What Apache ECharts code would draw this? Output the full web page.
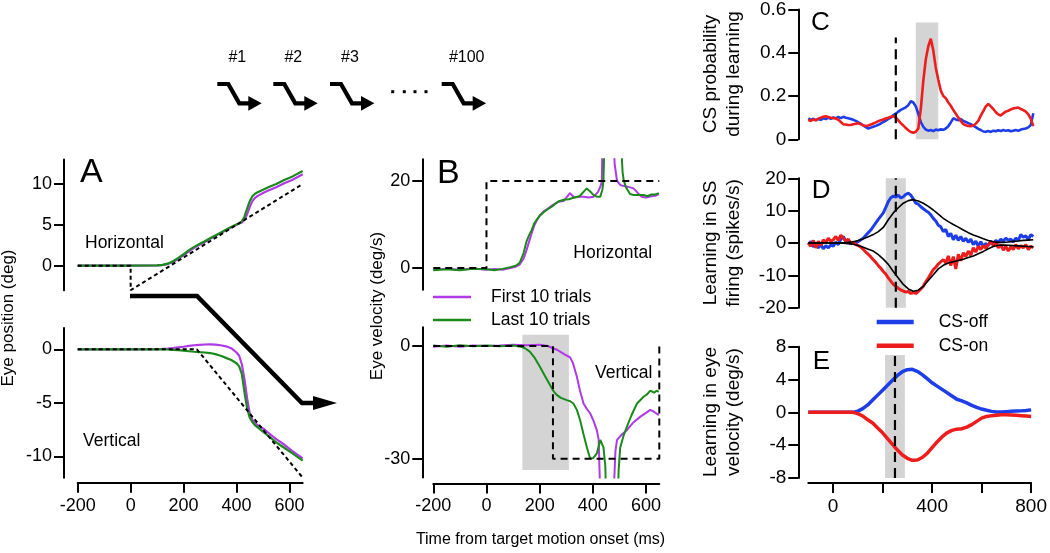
<!DOCTYPE html>
<html><head><meta charset="utf-8">
<script src="https://cdn.jsdelivr.net/npm/echarts@6/dist/echarts.min.js"></script>
<style>html,body{margin:0;padding:0;background:#fff}#c{width:1050px;height:553px}</style>
</head><body><div id="c"></div><script>
// ---------- DATA ----------
// Panel A (eye position, deg) time base (ms)
const aTime = [-200,-100,0,100,120,140,160,180,200,220,240,260,280,300,320,340,360,380,400,410,420,430,440,450,460,470,480,500,520,550,580,610,650];
const aHorizFirst = [0,0,0,0.03,0.08,0.2,0.45,0.85,1.3,1.75,2.2,2.55,2.9,3.3,3.65,4.0,4.35,4.7,5.0,5.15,5.3,5.6,6.3,7.2,7.9,8.3,8.55,8.9,9.2,9.6,10.1,10.5,11.2];
const aHorizLast = [0,0,0,0.05,0.1,0.25,0.55,0.95,1.4,1.9,2.3,2.65,3.0,3.35,3.7,4.05,4.4,4.75,5.05,5.2,5.4,6.0,7.0,7.9,8.5,8.8,9.0,9.3,9.6,10.0,10.5,10.9,11.6];
const aVertFirst = [0,0,0,0.02,0.04,0.07,0.12,0.18,0.24,0.32,0.38,0.42,0.45,0.46,0.44,0.38,0.28,0.1,-0.3,-0.6,-1.4,-2.8,-4.6,-6.0,-6.6,-6.9,-7.1,-7.4,-7.8,-8.4,-8.9,-9.5,-10.2];
const aVertLast = [0,0,0,0,0,-0.02,-0.05,-0.08,-0.13,-0.18,-0.23,-0.27,-0.3,-0.35,-0.45,-0.6,-0.8,-1.0,-1.3,-1.6,-2.3,-4.0,-5.5,-6.4,-6.8,-7.1,-7.3,-7.7,-8.1,-8.7,-9.2,-9.7,-10.4];
const aTargetHT = [-200,0,0,650], aTargetHY = [0,0,-3,10];
const aTargetVT = [-200,250,650], aTargetVY = [0,0,-12];

// Panel B (eye velocity, deg/s)
const bHorizLastT = [-200,-150,-100,-50,0,30,60,90,110,125,140,150,160,170,180,190,200,215,230,250,270,290,310,330,350,365,377,390,402,415,428,436,440,444,448,500,505,512,516,525,540,553,570,591,605,620,635,648];
const bHorizLastV = [-0.5,-0.3,-0.5,-0.2,-0.3,-0.5,-0.2,0.2,0.5,1.2,3.5,6.0,7.5,8.7,10.3,11.2,12.0,12.8,13.5,14.3,15.3,15.7,15.8,16.2,16.5,17.5,18.3,17.6,16.8,16.4,16.4,18,20.2,30,60,60,30,22,20.2,18.5,17,16.8,16.8,16.8,16.5,16.9,16.9,17.2];
const bHorizFirstT = [-200,-150,-100,-50,0,30,60,90,110,125,140,150,160,170,180,190,200,215,230,250,270,290,314,330,350,365,385,403,420,430,434,438,442,468,474,482,491,505,530,553,570,583,600,620,635,648];
const bHorizFirstV = [-0.4,-0.2,-0.4,-0.1,-0.4,-0.2,-0.4,0,0.3,0.8,2.2,4.0,6.0,8.0,9.8,11.0,12.0,13.0,13.6,14.5,15.2,15.4,17.2,16.2,16.4,16.4,16.2,16.4,17.5,19.0,20,40,60,60,35,24,20,19,18.7,18.3,17.2,16.4,16.2,16.5,16.6,17];
const bVertLastT = [-200,-150,-100,-50,0,50,100,130,145,163,180,201,220,239,250,264,280,302,315,327,340,352,365,377,390,402,415,428,434,440,447,453,491,497,503,515,528,545,566,591,605,616,630,640,648];
const bVertLastV = [0.1,-0.2,0.2,-0.1,0.1,-0.1,0.1,-0.2,-0.6,-1.5,-3.0,-5.5,-8.0,-10.4,-11.8,-13.0,-13.8,-14.4,-14.7,-15.3,-17.0,-19.7,-23.5,-26.8,-30.0,-29.8,-28.6,-25.0,-25.3,-27.0,-32,-50,-50,-33,-27.0,-24.0,-21.5,-18.5,-15.3,-13.5,-12.8,-11.9,-12.4,-11.9,-12.2];
const bVertFirstT = [-200,-150,-100,-50,0,50,100,150,200,230,250,265,277,295,314,325,340,352,365,378,390,403,415,422,428,478,485,491,510,528,550,579,600,616,630,648];
const bVertFirstV = [-0.2,0.1,-0.2,0.1,0,0.1,0.3,0.2,0.3,0,-0.6,-1.0,-1.5,-2.3,-3.0,-4.5,-8.2,-12.0,-15.3,-16.8,-17.9,-20.0,-22.4,-25,-40,-40,-28,-25.0,-23.5,-22.4,-20.5,-18.8,-17.8,-17.0,-17.5,-18.4];
const bTargetHT = [-200,0,0,650], bTargetHY = [0,0,20,20];
const bTargetVT = [-200,250,250,650,650], bTargetVY = [0,0,-30,-30,0];
const bBand = [135,310,-33,3];

// Panels C, D (time step 10 ms)
const cdTime = [-100,-90,-80,-70,-60,-50,-40,-30,-20,-10,0,10,20,30,40,50,60,70,80,90,100,110,120,130,140,150,160,170,180,190,200,210,220,230,240,250,260,270,280,290,300,310,320,330,340,350,360,370,380,390,400,410,420,430,440,450,460,470,480,490,500,510,520,530,540,550,560,570,580,590,600,610,620,630,640,650,660,670,680,690,700,710,720,730,740,750,760,770,780,790,800];
const cOff = [0.097,0.09,0.095,0.088,0.094,0.09,0.098,0.093,0.1,0.095,0.101,0.097,0.103,0.098,0.104,0.1,0.097,0.094,0.09,0.085,0.078,0.072,0.064,0.056,0.05,0.054,0.058,0.062,0.067,0.073,0.08,0.086,0.094,0.1,0.112,0.118,0.128,0.136,0.142,0.148,0.158,0.176,0.17,0.152,0.118,0.08,0.058,0.045,0.04,0.043,0.038,0.045,0.042,0.046,0.044,0.05,0.06,0.078,0.097,0.092,0.088,0.094,0.085,0.08,0.075,0.07,0.062,0.056,0.048,0.043,0.036,0.035,0.038,0.034,0.04,0.037,0.042,0.038,0.043,0.039,0.042,0.037,0.04,0.043,0.039,0.045,0.048,0.05,0.055,0.066,0.12];
const cOn = [0.089,0.085,0.092,0.088,0.095,0.1,0.104,0.107,0.103,0.1,0.098,0.097,0.09,0.08,0.07,0.068,0.066,0.066,0.07,0.072,0.074,0.07,0.064,0.061,0.064,0.068,0.073,0.078,0.084,0.088,0.092,0.096,0.1,0.104,0.107,0.1,0.088,0.075,0.064,0.052,0.042,0.034,0.03,0.035,0.05,0.14,0.27,0.37,0.43,0.465,0.41,0.33,0.275,0.225,0.2,0.19,0.17,0.155,0.135,0.118,0.1,0.085,0.07,0.065,0.062,0.06,0.064,0.072,0.085,0.11,0.13,0.152,0.163,0.152,0.14,0.125,0.115,0.11,0.12,0.128,0.132,0.138,0.143,0.145,0.147,0.14,0.135,0.128,0.115,0.095,0.061];
const dOff = [-0.5,0.5,-1.2,-0.3,-1.5,-0.5,-1.8,-0.8,-1.5,-0.6,-1.0,0.3,-0.5,1.2,2.0,0.5,1.0,-0.3,0.2,0.0,0.5,1.0,1.5,2.4,3.2,4.0,5.1,6.2,7.3,8.3,9.3,11.0,12.8,14.0,14.5,14.2,14.8,13.9,14.3,15.0,15.4,14.8,13.6,12.3,12.0,11.2,10.6,10.0,9.5,8.7,7.6,6.8,5.5,5.0,3.5,4.2,2.0,3.0,1.0,2.4,0.8,2.0,0.5,1.5,0.2,1.2,-0.5,0.6,-1.0,0.4,-1.0,-0.2,-0.8,0.5,-0.3,0.8,0.2,1.2,0.5,1.5,0.8,1.2,0.3,1.5,0.8,2.6,1.8,2.2,1.0,2.6,2.0];
const dOn = [0,-1.0,0.8,-1.5,0.5,-0.8,1.0,0.2,1.5,0.5,1.0,2.0,0.8,2.4,1.5,0.5,1.2,-0.2,0.3,-0.5,-0.8,-1.3,-2.0,-2.8,-3.5,-4.3,-5.2,-6.0,-7.0,-7.8,-8.8,-9.6,-10.8,-11.8,-12.8,-13.4,-14.0,-14.5,-14.9,-15.2,-15.0,-15.6,-15.3,-15.6,-15.0,-14.2,-13.4,-12.0,-10.8,-9.5,-8.2,-7.5,-6.5,-5.8,-5.1,-6.2,-4.0,-7.0,-4.2,-8.0,-3.5,-5.5,-3.0,-4.2,-2.5,-3.8,-1.5,-2.8,-1.0,-2.0,-0.8,-1.6,-0.5,0.5,-0.8,0.3,-1.5,-0.5,-2.2,-1.0,-2.5,-1.2,-2.0,-0.5,-1.8,-0.8,-1.5,-0.5,-2.0,-1.0,-1.5];

// Panels D model and E (time step 20 ms)
const eTime = [-100,-80,-60,-40,-20,0,20,40,60,80,100,120,140,160,180,200,220,240,260,280,300,320,340,360,380,400,420,440,460,480,500,520,540,560,580,600,620,640,660,680,700,720,740,760,780,800];
const dModelUp = [0,0,0,0,0,0,0,0.1,0.2,0.4,0.8,1.3,1.9,2.6,3.5,4.8,7.2,9.3,10.9,12.3,13.1,13.4,13.0,12.3,11.3,10.2,8.9,7.6,6.6,5.7,4.9,4.0,3.2,2.5,1.9,1.3,0.8,0.4,0.2,0.2,0.3,0.5,0.6,0.8,0.9,1.0];
const dModelDown = [0,0,0,0,0,0,0,-0.1,-0.2,-0.4,-0.8,-1.3,-1.9,-2.5,-3.6,-5.0,-6.6,-8.8,-10.8,-12.8,-14.2,-14.9,-14.6,-13.4,-11.6,-9.8,-8.0,-6.9,-6.2,-5.8,-5.4,-5.0,-4.5,-4.0,-3.3,-2.6,-1.8,-1.1,-0.7,-0.6,-0.7,-0.8,-0.9,-1.0,-1.1,-1.2];
const eOff = [0,0,0,0,0,0,0,0,0,0,0.15,0.45,0.9,1.5,2.1,2.7,3.3,3.9,4.5,4.95,5.2,5.25,5.0,4.6,4.1,3.6,3.2,2.8,2.4,2.0,1.6,1.4,1.15,0.85,0.6,0.4,0.25,0.12,0.05,0.03,0.08,0.12,0.15,0.18,0.22,0.3];
const eOn = [0,0,0,0,0,0,0,0,0,0,-0.15,-0.45,-0.9,-1.3,-1.9,-2.5,-3.2,-3.9,-4.6,-5.2,-5.6,-5.85,-5.8,-5.5,-5.0,-4.3,-3.6,-3.0,-2.5,-2.2,-2.05,-2.0,-1.8,-1.5,-1.1,-0.7,-0.5,-0.4,-0.35,-0.3,-0.3,-0.33,-0.36,-0.4,-0.45,-0.5];

const cBand = [330,420,0,0.54], dBand = [210,290,-20,20], eBand = [210,290,-8,7];
const cOnset = [250,0,0.47], dOnset = [250,-20,20], eOnset = [250,-8,7];

// Tick values
const abXTicks = [-200,0,200,400,600];
const aHTicks = [0,5,10], aVTicks = [-10,-5,0];
const bHTicks = [0,20], bVTicks = [-30,0];
const cTicks = [0,0.2,0.4,0.6], dTicks = [-20,-10,0,10,20], eTicks = [-8,-4,0,4,8];
const eXTicks = [0,200,400,600,800], eXLabels = [0,400,800];
const trialLabels = ['#1','#2','#3','#100'];

// ---------- STYLE ----------
const F = '"Liberation Sans", Arial, Helvetica, sans-serif';
const PURPLE = '#b03ae8', GREEN = '#1a8a1a', RED = '#ee1d1d', BLUE = '#1d3de8', BAND = '#d4d4d4';
const zip = (xs, ys) => xs.map((x, i) => [x, ys[i]]);

function xAx(gi, min, max, show, ticks, labels, offset, fs) {
  return {
    type: 'value', gridIndex: gi, min, max, show, offset: offset || 0, position: 'bottom',
    axisLine: { show: true, onZero: false, lineStyle: { color: '#000', width: 2 } },
    axisTick: { show: true, inside: false, length: 10, customValues: ticks || [], lineStyle: { color: '#000', width: 2 } },
    axisLabel: { show: true, customValues: labels || ticks || [], color: '#000', fontSize: fs || 18, fontFamily: F, margin: 14, formatter: v => String(v) },
    splitLine: { show: false }
  };
}
function yAx(gi, min, max, ticks, offset, fs) {
  return {
    type: 'value', gridIndex: gi, min, max, offset, position: 'left',
    axisLine: { show: true, onZero: false, lineStyle: { color: '#000', width: 2 } },
    axisTick: { show: true, inside: false, length: 10, customValues: ticks, lineStyle: { color: '#000', width: 2 } },
    axisLabel: { show: true, customValues: ticks, color: '#000', fontSize: fs || 18, fontFamily: F, margin: 12, formatter: v => String(v) },
    splitLine: { show: false }
  };
}
function line(name, xs, ys, gi, color, width, extra) {
  return Object.assign({
    type: 'line', name, data: zip(xs, ys), xAxisIndex: gi, yAxisIndex: gi,
    showSymbol: false, symbol: 'none', color, lineStyle: { color, width }, silent: true, clip: true, z: 2
  }, extra || {});
}
function dashed(xs, ys, gi, dash, width, band) {
  const s = line('Target', xs, ys, gi, '#000', width, { lineStyle: { color: '#000', width, type: dash }, z: 4 });
  if (band) {
    s.markArea = { silent: true, itemStyle: { color: BAND }, label: { show: false },
      data: [[{ coord: [band[0], band[2]] }, { coord: [band[1], band[3]] }]] };
  }
  return s;
}
function txt(x, y, s, size, align, rot, lh) {
  const st = { text: s, fill: '#000', font: size + 'px ' + F, align: align || 'left', verticalAlign: 'middle', textAlign: align || 'left', textVerticalAlign: 'middle' };
  if (lh) st.lineHeight = lh;
  return { type: 'text', x, y, rotation: rot || 0, silent: true, style: st };
}

// ---------- GRAPHICS (schematic decorations and text) ----------
const graphics = [
  txt(80, 173, 'A', 34), txt(437, 173.5, 'B', 34),
  txt(811, 23, 'C', 26), txt(811.7, 190.5, 'D', 26), txt(812.7, 361.7, 'E', 26),
  txt(85, 243, 'Horizontal', 17.5), txt(83, 441, 'Vertical', 17.5),
  txt(573.3, 253.5, 'Horizontal', 17.5), txt(595, 373.5, 'Vertical', 17.5),
  txt(8.5, 318, 'Eye position (deg)', 17, 'center', Math.PI / 2),
  txt(377.5, 306, 'Eye velocity (deg/s)', 17, 'center', Math.PI / 2),
  txt(722, 74, 'CS probability\nduring learning', 19, 'center', Math.PI / 2, 23),
  txt(722, 243, 'Learning in SS\nfiring (spikes/s)', 19, 'center', Math.PI / 2, 23),
  txt(722, 412, 'Learning in eye\nvelocity (deg/s)', 19, 'center', Math.PI / 2, 23),
  txt(540.5, 540, 'Time from target motion onset (ms)', 16, 'center'),
  // big trajectory arrow in A
  { type: 'polyline', silent: true, shape: { points: [[130, 296], [197, 296], [302, 403], [315, 403]] }, style: { stroke: '#000', lineWidth: 4.5, fill: null } },
  { type: 'polygon', silent: true, shape: { points: [[313, 396], [337, 403], [313, 410]] }, style: { fill: '#000' } },
  // arrowhead pointer in B
  { type: 'polygon', silent: true, shape: { points: [[554, 394], [536, 406], [543, 412]] }, style: { fill: '#000' } }
];
const arrowX = [217.3, 273.3, 330, 441.7];
arrowX.forEach((x0, i) => {
  graphics.push({ type: 'polyline', silent: true, shape: { points: [[x0, 84], [x0 + 11, 84], [x0 + 22, 103.3], [x0 + 32, 103.3]] }, style: { stroke: '#000', lineWidth: 4.2, fill: null } });
  graphics.push({ type: 'polygon', silent: true, shape: { points: [[x0 + 31, 96], [x0 + 44.4, 103.3], [x0 + 31, 110.7]] }, style: { fill: '#000' } });
  graphics.push(txt(x0 + (i === 3 ? 25 : 20), 58, trialLabels[i], 16, 'center'));
});
[392.7, 404.3, 415, 426].forEach(x => graphics.push({ type: 'rect', silent: true, shape: { x: x - 1.5, y: 90.2, width: 3, height: 3 }, style: { fill: '#000' } }));

// ---------- OPTION ----------
const option = {
  animation: false,
  backgroundColor: '#fff',
  grid: [
    { left: 77.7, top: 159.5, width: 225, height: 130.7 },
    { left: 77.7, top: 327.9, width: 225, height: 149.8 },
    { left: 433.3, top: 159.25, width: 226, height: 130.5 },
    { left: 433.3, top: 327.2, width: 226, height: 150.3 },
    { left: 808.3, top: 9.3, width: 225, height: 130 },
    { left: 808.3, top: 178.3, width: 225, height: 129.4 },
    { left: 808.3, top: 346.7, width: 225, height: 131.3 }
  ],
  xAxis: [
    xAx(0, -200, 650, false),
    xAx(1, -200, 650, true, abXTicks, abXTicks, 5),
    xAx(2, -200, 650, false),
    xAx(3, -200, 650, true, abXTicks, abXTicks, 6),
    xAx(4, -100, 800, false),
    xAx(5, -100, 800, false),
    xAx(6, -100, 800, true, eXTicks, eXLabels, 5, 19)
  ],
  yAxis: [
    yAx(0, -3, 13, aHTicks, 13.7),
    yAx(1, -12, 2, aVTicks, 13.7),
    yAx(2, -5, 25, bHTicks, 11),
    yAx(3, -35, 5, bVTicks, 11),
    yAx(4, 0, 0.6, cTicks, 10, 19),
    yAx(5, -20, 20, dTicks, 10, 19),
    yAx(6, -8, 8, eTicks, 10, 19)
  ],
  legend: [
    { data: ['First 10 trials', 'Last 10 trials'], orient: 'vertical', left: 433, top: 288, padding: 0,
      icon: 'rect', itemWidth: 38, itemHeight: 2.5, itemGap: 5, selectedMode: false,
      textStyle: { fontFamily: F, fontSize: 17.5, color: '#000', lineHeight: 18, padding: [0, 0, 0, 15] } },
    { data: ['CS-off', 'CS-on'], orient: 'vertical', left: 876.7, top: 313, padding: 0,
      icon: 'rect', itemWidth: 37, itemHeight: 4.5, itemGap: 5.7, selectedMode: false,
      textStyle: { fontFamily: F, fontSize: 17.5, color: '#000', lineHeight: 18, padding: [0, 0, 0, 20] } }
  ],
  graphic: graphics,
  series: [
    // A horizontal
    dashed(aTargetHT, aTargetHY, 0, [4, 3], 2),
    line('First 10 trials', aTime, aHorizFirst, 0, PURPLE, 2.2),
    line('Last 10 trials', aTime, aHorizLast, 0, GREEN, 2.2),
    // A vertical
    dashed(aTargetVT, aTargetVY, 1, [4, 3], 2),
    line('First 10 trials', aTime, aVertFirst, 1, PURPLE, 2.2),
    line('Last 10 trials', aTime, aVertLast, 1, GREEN, 2.2),
    // B horizontal
    dashed(bTargetHT, bTargetHY, 2, [7, 5], 2),
    line('First 10 trials', bHorizFirstT, bHorizFirstV, 2, PURPLE, 2),
    line('Last 10 trials', bHorizLastT, bHorizLastV, 2, GREEN, 2),
    // B vertical
    dashed(bTargetVT, bTargetVY, 3, [7, 5], 2, bBand),
    line('First 10 trials', bVertFirstT, bVertFirstV, 3, PURPLE, 2),
    line('Last 10 trials', bVertLastT, bVertLastV, 3, GREEN, 2),
    // C
    dashed([cOnset[0], cOnset[0]], [cOnset[1], cOnset[2]], 4, [10, 6], 2.2, cBand),
    line('CS-off', cdTime, cOff, 4, BLUE, 2.6),
    line('CS-on', cdTime, cOn, 4, RED, 2.6),
    // D
    dashed([dOnset[0], dOnset[0]], [dOnset[1], dOnset[2]], 5, [10, 6], 2.2, dBand),
    line('CS-off', cdTime, dOff, 5, BLUE, 3),
    line('CS-on', cdTime, dOn, 5, RED, 3),
    line('Model', eTime, dModelUp, 5, '#000', 1.6, { z: 3 }),
    line('Model', eTime, dModelDown, 5, '#000', 1.6, { z: 3 }),
    // E
    dashed([eOnset[0], eOnset[0]], [eOnset[1], eOnset[2]], 6, [10, 6], 2.2, eBand),
    line('CS-off', eTime, eOff, 6, BLUE, 3.5),
    line('CS-on', eTime, eOn, 6, RED, 3.5)
  ]
};
const chart = echarts.init(document.getElementById('c'), null, { renderer: 'canvas' });
chart.setOption(option);
</script></body></html>
